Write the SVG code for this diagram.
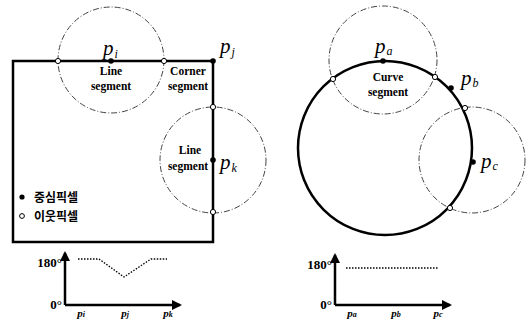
<svg xmlns="http://www.w3.org/2000/svg" width="531" height="321" viewBox="0 0 531 321">
<defs>
<style>
.bold{fill:none;stroke:#000;stroke-width:2.5}
.dash{fill:none;stroke:#444;stroke-width:1;stroke-dasharray:6 2 1 2}
.dot{fill:none;stroke:#000;stroke-width:1.3;stroke-dasharray:1.5 1.5}
.axis{fill:none;stroke:#000;stroke-width:2.5}
.cp{fill:#000}
.np{fill:#fff;stroke:#000;stroke-width:1}
.pl{font-family:"Liberation Serif",serif;font-style:italic;font-size:21px;fill:#000}
.sub{font-size:12px}
.seg{font-family:"Liberation Serif",serif;font-weight:bold;font-size:11.5px;fill:#000;text-anchor:middle}
.ax{font-family:"Liberation Serif",serif;font-weight:bold;font-size:13px;fill:#000;text-anchor:end}
.tk{font-family:"Liberation Serif",serif;font-style:italic;font-weight:bold;font-size:11px;fill:#000;text-anchor:middle}
.kr{font-family:"Noto Sans CJK KR","Noto Sans",sans-serif;font-weight:bold;font-size:12px;fill:#000}
</style>
<marker id="ah" viewBox="0 0 10 10" refX="8" refY="5" markerWidth="4" markerHeight="4" orient="auto"><path d="M0,0L10,5L0,10z" fill="#000"/></marker>
</defs>
<g id="connectors">
<rect class="bold" x="13" y="61" width="200" height="181"/>
<circle class="bold" cx="385" cy="148" r="87"/>
<circle class="dash" cx="111" cy="60" r="53"/>
<circle class="dash" cx="213" cy="160" r="53"/>
<circle class="dash" cx="383" cy="60" r="54"/>
<circle class="dash" cx="472" cy="160" r="53"/>
</g>
<g id="node-pi"><circle class="cp" cx="111" cy="61" r="2.8"/><text class="pl" x="103" y="55">p<tspan class="sub" dx="1" dy="3">i</tspan></text></g>
<g id="node-pj"><circle class="cp" cx="213" cy="61" r="2.8"/><text class="pl" x="220" y="53">p<tspan class="sub" dx="1" dy="3">j</tspan></text></g>
<g id="node-pk"><circle class="cp" cx="213" cy="160" r="2.8"/><text class="pl" x="220" y="169">p<tspan class="sub" dx="1" dy="3">k</tspan></text></g>
<g id="neighbors-left">
<circle class="np" cx="58" cy="61" r="2.6"/>
<circle class="np" cx="164" cy="61" r="2.6"/>
<circle class="np" cx="213" cy="107" r="2.6"/>
<circle class="np" cx="213" cy="212" r="2.6"/>
</g>
<g id="label-line1"><text class="seg" x="111" y="75">Line</text><text class="seg" x="111" y="90">segment</text></g>
<g id="label-corner"><text class="seg" x="188" y="75">Corner</text><text class="seg" x="188" y="90">segment</text></g>
<g id="label-line2"><text class="seg" x="190" y="154">Line</text><text class="seg" x="188" y="170">segment</text></g>
<g id="legend">
<circle class="cp" cx="22" cy="197" r="2.6"/><text class="kr" x="34" y="202">중심픽셀</text>
<circle class="np" cx="22" cy="216" r="2.4"/><text class="kr" x="34" y="221">이웃픽셀</text>
</g>
<g id="chart-left">
<line class="axis" x1="65" y1="305" x2="65" y2="253" marker-end="url(#ah)"/>
<line class="axis" x1="65" y1="305" x2="180" y2="305" marker-end="url(#ah)"/>
<polyline class="dot" points="78,259 99,259 124,277 151,259 167,259"/>
<text class="ax" x="62" y="267">180°</text>
<text class="ax" x="62" y="309">0°</text>
<text class="tk" x="81" y="317">p<tspan font-size="8">i</tspan></text>
<text class="tk" x="125" y="317">p<tspan font-size="8">j</tspan></text>
<text class="tk" x="168" y="317">p<tspan font-size="8">k</tspan></text>
</g>
<g id="node-pa"><circle class="cp" cx="383" cy="61" r="2.8"/><text class="pl" x="375" y="53">p<tspan class="sub" dx="1" dy="2">a</tspan></text></g>
<g id="node-pb"><circle class="cp" cx="451" cy="88" r="2.8"/><text class="pl" x="461" y="85">p<tspan class="sub" dx="1" dy="2">b</tspan></text></g>
<g id="node-pc"><circle class="cp" cx="473" cy="162" r="2.8"/><text class="pl" x="481" y="168">p<tspan class="sub" dx="1" dy="2">c</tspan></text></g>
<g id="neighbors-right">
<circle class="np" cx="333" cy="79" r="2.6"/>
<circle class="np" cx="435" cy="77" r="2.6"/>
<circle class="np" cx="465" cy="108" r="2.6"/>
<circle class="np" cx="450" cy="208" r="2.6"/>
</g>
<g id="label-curve"><text class="seg" x="388" y="81">Curve</text><text class="seg" x="388" y="96">segment</text></g>
<g id="chart-right">
<line class="axis" x1="335" y1="305" x2="335" y2="255" marker-end="url(#ah)"/>
<line class="axis" x1="335" y1="305" x2="450" y2="305" marker-end="url(#ah)"/>
<line class="dot" x1="346" y1="268" x2="438" y2="268"/>
<text class="ax" x="332" y="269">180°</text>
<text class="ax" x="332" y="309">0°</text>
<text class="tk" x="352" y="317">p<tspan font-size="8">a</tspan></text>
<text class="tk" x="396" y="317">p<tspan font-size="8">b</tspan></text>
<text class="tk" x="438" y="317">p<tspan font-size="8">c</tspan></text>
</g>
</svg>
